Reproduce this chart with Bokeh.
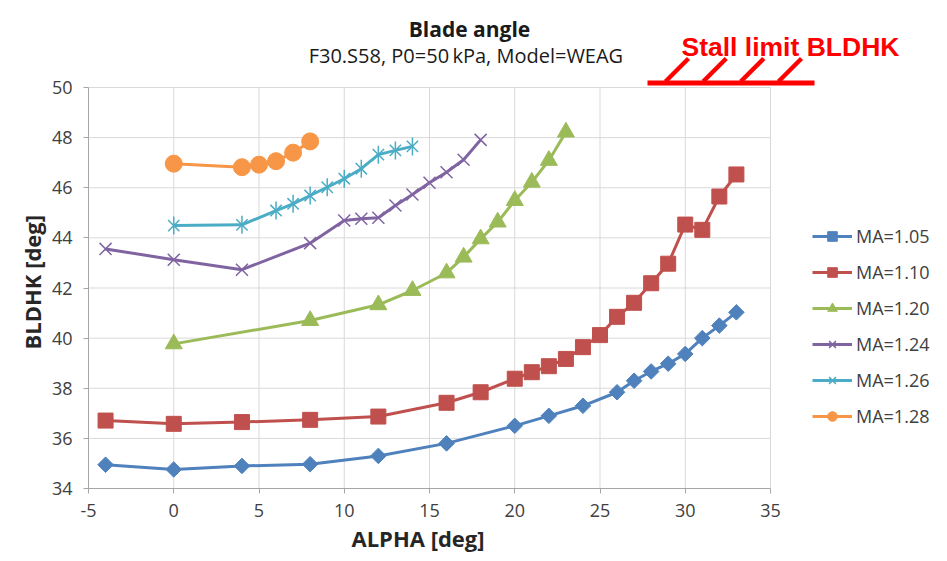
import numpy as np
from bokeh.plotting import figure
from bokeh.models import Label, Legend, FixedTicker, Arrow, Title
from bokeh.embed import file_html
from bokeh.resources import INLINE

# ---- data ----
alpha_105 = [-4, 0, 4, 8, 12, 16, 20, 22, 24, 26, 27, 28, 29, 30, 31, 32, 33]
bld_105 = [34.95, 34.76, 34.90, 34.97, 35.30, 35.80, 36.50, 36.90, 37.30, 37.84, 38.30, 38.67, 38.98, 39.37, 40.00, 40.50, 41.03]

alpha_110 = [-4, 0, 4, 8, 12, 16, 18, 20, 21, 22, 23, 24, 25, 26, 27, 28, 29, 30, 31, 32, 33]
bld_110 = [36.71, 36.58, 36.65, 36.74, 36.87, 37.42, 37.84, 38.38, 38.64, 38.88, 39.17, 39.64, 40.12, 40.85, 41.41, 42.19, 42.97, 44.53, 44.32, 45.65, 46.53]

alpha_120 = [0, 8, 12, 14, 16, 17, 18, 19, 20, 21, 22, 23]
bld_120 = [39.77, 40.70, 41.33, 41.90, 42.60, 43.23, 43.96, 44.63, 45.49, 46.22, 47.09, 48.22]

alpha_124 = [-4, 0, 4, 8, 10, 11, 12, 13, 14, 15, 16, 17, 18]
bld_124 = [43.56, 43.13, 42.73, 43.79, 44.69, 44.76, 44.80, 45.29, 45.73, 46.20, 46.62, 47.12, 47.91]

alpha_126 = [0, 4, 6, 7, 8, 9, 10, 11, 12, 13, 14]
bld_126 = [44.49, 44.52, 45.09, 45.36, 45.69, 46.02, 46.36, 46.76, 47.32, 47.49, 47.65]

alpha_128 = [0, 4, 5, 6, 7, 8]
bld_128 = [46.96, 46.82, 46.92, 47.06, 47.40, 47.85]

labels = ["MA=1.05", "MA=1.10", "MA=1.20", "MA=1.24", "MA=1.26", "MA=1.28"]
colors = ["#4F81BD", "#C0504D", "#9BBB59", "#8064A2", "#4BACC6", "#F79646"]

x_ticks = [-5, 0, 5, 10, 15, 20, 25, 30, 35]
y_ticks = [34, 36, 38, 40, 42, 44, 46, 48, 50]
x_lim = (-5, 35)
y_lim = (34, 50)

title_text = "Blade angle"
subtitle_text = "F30.S58, P0=50\u2009kPa,  Model=WEAG"
stall_text = "Stall limit BLDHK"
x_label = "ALPHA [deg]"
y_label = "BLDHK [deg]"

FONT = "Open Sans"
GRID = "#D9D9D9"
AXIS = "#A6A6A6"
TXT = "#404040"
RED = "#FF0000"

# ---- layout: the frame covers the whole area right of / above the axes;
#      the axes are bounded to the data limits so titles, legend and the
#      stall-limit sign can live inside the frame.
W, H = 947, 561
LEFT, BOTTOM = 88, 488          # pixel position of the axes corner
PLOT_W, PLOT_H = 682, 401       # pixel size of the plotting area
ppx = PLOT_W / (x_lim[1] - x_lim[0])
ppy = PLOT_H / (y_lim[1] - y_lim[0])
x_end = x_lim[1] + (W - LEFT - PLOT_W) / ppx
y_end = y_lim[1] + (BOTTOM - PLOT_H) / ppy

p = figure(width=W, height=H, x_range=(x_lim[0], x_end), y_range=(y_lim[0], y_end),
           output_backend="svg", toolbar_location=None,
           min_border_left=LEFT, min_border_right=0,
           min_border_top=0, min_border_bottom=H - BOTTOM)
p.title.visible = False
p.outline_line_color = None
p.background_fill_color = "white"
p.xgrid.visible = False
p.ygrid.visible = False

# gridlines at the tick values, limited to the plotting area
p.segment(x0=x_ticks, y0=[y_lim[0]] * len(x_ticks), x1=x_ticks, y1=[y_lim[1]] * len(x_ticks),
          line_color=GRID, line_width=1)
p.segment(x0=[x_lim[0]] * len(y_ticks), y0=y_ticks, x1=[x_lim[1]] * len(y_ticks), y1=y_ticks,
          line_color=GRID, line_width=1)

for ax, ticks, lim in ((p.xaxis, x_ticks, x_lim), (p.yaxis, y_ticks, y_lim)):
    ax.ticker = FixedTicker(ticks=ticks)
    ax.bounds = lim
    ax.minor_tick_line_color = None
    ax.major_tick_in = 0
    ax.major_tick_out = 5
    ax.major_tick_line_color = AXIS
    ax.axis_line_color = AXIS
    ax.major_label_text_font = FONT
    ax.major_label_text_font_size = "18px"
    ax.major_label_text_color = TXT

p.xaxis.major_label_overrides = {-5: "-5"}
p.xaxis.major_label_standoff = 10
p.yaxis.major_label_standoff = 11

# axis titles (as side-panel titles, positioned along the bounded axes)
AX_FONT_SIZE = "22px"
p.add_layout(Title(text=x_label, align="left", offset=263, standoff=3,
                   text_font=FONT, text_font_size=AX_FONT_SIZE, text_font_style="bold",
                   text_color="#262626"), "below")
p.add_layout(Title(text=y_label, align="left", offset=139, standoff=4,
                   text_font=FONT, text_font_size=AX_FONT_SIZE, text_font_style="bold",
                   text_color="#262626"), "left")

LW = 3
items = []
l = p.line(alpha_105, bld_105, line_color=colors[0], line_width=LW)
m = p.scatter(alpha_105, bld_105, marker="square", angle=np.pi / 4, size=11,
              fill_color=colors[0], line_color=colors[0])
items.append((labels[0], [l, m]))
l = p.line(alpha_110, bld_110, line_color=colors[1], line_width=LW)
m = p.scatter(alpha_110, bld_110, marker="square", size=15,
              fill_color=colors[1], line_color=colors[1])
items.append((labels[1], [l, m]))
l = p.line(alpha_120, bld_120, line_color=colors[2], line_width=LW)
m = p.scatter(alpha_120, bld_120, marker="triangle", size=17,
              fill_color=colors[2], line_color=colors[2])
items.append((labels[2], [l, m]))
l = p.line(alpha_124, bld_124, line_color=colors[3], line_width=LW)
m = p.scatter(alpha_124, bld_124, marker="x", size=17, line_width=1.5,
              line_color=colors[3])
items.append((labels[3], [l, m]))
l = p.line(alpha_126, bld_126, line_color=colors[4], line_width=LW)
m = p.scatter(alpha_126, bld_126, marker="x", size=16, line_width=1.5,
              line_color=colors[4])
m2 = p.scatter(alpha_126, bld_126, marker="dash", angle=np.pi / 2, size=18,
               line_width=1.5, line_color=colors[4])
items.append((labels[4], [l, m, m2]))
l = p.line(alpha_128, bld_128, line_color=colors[5], line_width=LW)
m = p.scatter(alpha_128, bld_128, marker="circle", size=17,
              fill_color=colors[5], line_color=colors[5])
items.append((labels[5], [l, m]))

# legend (screen units relative to the frame's bottom-left corner)
legend = Legend(items=items, location=(724, 60), orientation="vertical")
legend.glyph_width = 40
legend.glyph_height = 24
legend.spacing = 12
legend.label_standoff = 4
legend.padding = 0
legend.margin = 0
legend.border_line_color = None
legend.background_fill_alpha = 0
legend.label_text_font = FONT
legend.label_text_font_size = "18px"
legend.label_text_color = TXT
legend.label_height = 24
p.add_layout(legend, "center")

# titles
p.add_layout(Label(x=381, y=460, x_units="screen", y_units="screen", text=title_text,
                   text_font=FONT, text_font_size="21px", text_font_style="bold",
                   text_align="center", text_baseline="alphabetic", text_color="#1a1a1a"))
p.add_layout(Label(x=380, y=433, x_units="screen", y_units="screen", text=subtitle_text,
                   text_font=FONT, text_font_size="20px",
                   text_align="center", text_baseline="alphabetic", text_color="#1a1a1a"))
p.add_layout(Label(x=593, y=442, x_units="screen", y_units="screen", text=stall_text,
                   text_font="Liberation Sans", text_font_size="26.5px", text_font_style="bold",
                   text_align="left", text_baseline="alphabetic", text_color=RED))

# stall-limit sign
p.add_layout(Arrow(x_start=559, y_start=405.5, x_end=726, y_end=405.5,
                   start_units="screen", end_units="screen", start=None, end=None,
                   line_color=RED, line_width=5))
for hx in (577, 614.7, 652.3, 690):
    p.add_layout(Arrow(x_start=hx, y_start=407, x_end=hx + 23, y_end=430,
                       start_units="screen", end_units="screen", start=None, end=None,
                       line_color=RED, line_width=4.5))

open("out.html", "w").write(file_html(p, INLINE))
